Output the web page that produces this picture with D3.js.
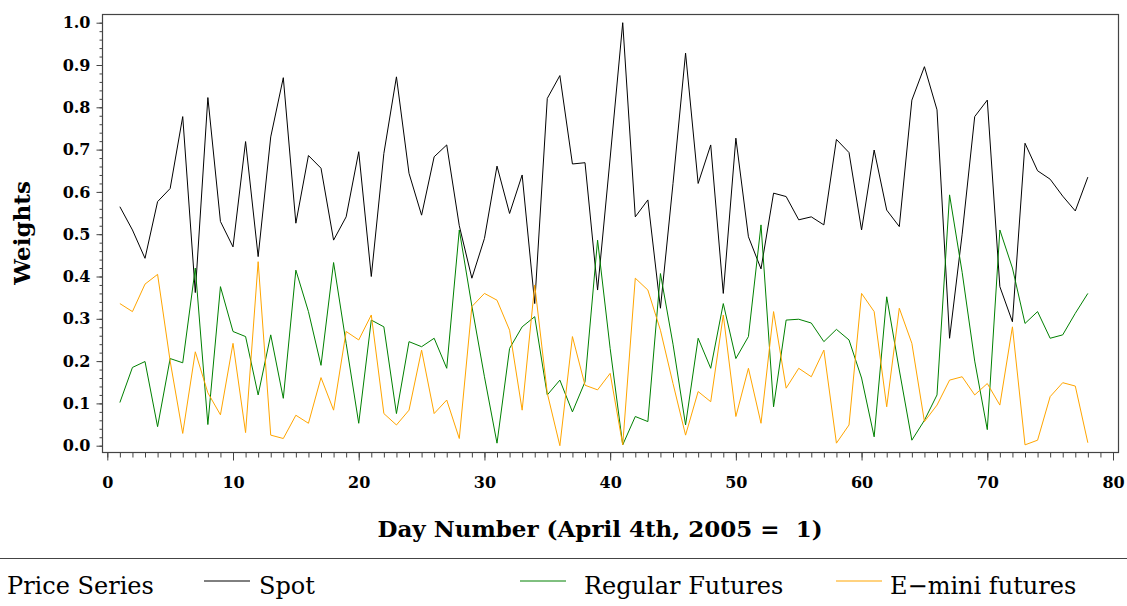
<!DOCTYPE html>
<html>
<head>
<meta charset="utf-8">
<script src="https://d3js.org/d3.v7.min.js"></script>
<style>
    body { margin: 0; background: #fff; }
    svg { display: block; }
</style>
</head>
<body>
<svg width="1127" height="606"></svg>
<script>
const days = d3.range(1, 79);

const spot = [0.565, 0.51, 0.443, 0.577, 0.608, 0.778, 0.362, 0.823, 0.53, 0.47,
              0.719, 0.447, 0.73, 0.87, 0.526, 0.686, 0.656, 0.486, 0.541, 0.695,
              0.40, 0.691, 0.872, 0.644, 0.545, 0.683, 0.711, 0.52, 0.396, 0.49,
              0.661, 0.549, 0.64, 0.336, 0.821, 0.875, 0.666, 0.669, 0.368, 0.68,
              1.0, 0.541, 0.581, 0.325, 0.62, 0.928, 0.62, 0.711, 0.36, 0.727,
              0.494, 0.418, 0.597, 0.589, 0.534, 0.541, 0.522, 0.724, 0.693, 0.51,
              0.699, 0.557, 0.518, 0.817, 0.896, 0.794, 0.254, 0.5, 0.778, 0.817,
              0.376, 0.293, 0.715, 0.65, 0.63, 0.59, 0.555, 0.635];

const regular = [0.102, 0.185, 0.199, 0.045, 0.206, 0.196, 0.42, 0.05, 0.376, 0.27,
                 0.258, 0.12, 0.262, 0.112, 0.415, 0.317, 0.19, 0.433, 0.242, 0.053,
                 0.297, 0.281, 0.076, 0.246, 0.234, 0.254, 0.183, 0.51, 0.33, 0.163,
                 0.006, 0.23, 0.281, 0.305, 0.12, 0.155, 0.08, 0.151, 0.486, 0.23,
                 0.002, 0.069, 0.057, 0.407, 0.24, 0.049, 0.254, 0.183, 0.336, 0.206,
                 0.258, 0.522, 0.092, 0.297, 0.299, 0.29, 0.246, 0.275, 0.25, 0.16,
                 0.021, 0.352, 0.179, 0.013, 0.06, 0.12, 0.593, 0.41, 0.2, 0.038,
                 0.51, 0.42, 0.289, 0.317, 0.254, 0.262, 0.313, 0.36];

const emini = [0.336, 0.317, 0.382, 0.405, 0.2, 0.029, 0.222, 0.125, 0.073, 0.242,
               0.031, 0.435, 0.025, 0.017, 0.072, 0.053, 0.161, 0.084, 0.27, 0.25,
               0.309, 0.076, 0.049, 0.084, 0.226, 0.076, 0.108, 0.017, 0.329, 0.36,
               0.344, 0.273, 0.084, 0.38, 0.124, 0.0, 0.258, 0.143, 0.132, 0.171,
               0.002, 0.396, 0.368, 0.273, 0.147, 0.025, 0.128, 0.104, 0.309, 0.069,
               0.183, 0.053, 0.317, 0.136, 0.183, 0.163, 0.226, 0.006, 0.049, 0.36,
               0.317, 0.092, 0.325, 0.242, 0.057, 0.096, 0.155, 0.163, 0.12, 0.147,
               0.096, 0.281, 0.002, 0.013, 0.116, 0.149, 0.141, 0.007];

const xMajor = [0, 10, 20, 30, 40, 50, 60, 70, 80];
const yMajor = [0, 0.1, 0.2, 0.3, 0.4, 0.5, 0.6, 0.7, 0.8, 0.9, 1.0];

const seriesNames = ["Spot", "Regular Futures", "E\u2212mini futures"];
const seriesColors = ["#000000", "#008000", "#ffa500"];

const FONT = "'DejaVu Serif', serif";

const svg = d3.select("svg");

// frame is a bit wider than the data range, like the SAS output
const frame = {left: 102.5, right: 1118.5, top: 14.5, bottom: 452.5};

const x = d3.scaleLinear().domain([0, 80]).range([107.3, 1113]);
const y = d3.scaleLinear().domain([0, 1]).range([445.7, 22.7]);

svg.append("rect")
    .attr("x", frame.left)
    .attr("y", frame.top)
    .attr("width", frame.right - frame.left)
    .attr("height", frame.bottom - frame.top)
    .attr("fill", "none")
    .attr("stroke", "#444")
    .attr("stroke-width", 1.2);

// x axis: minor ticks every day, major every 10
const xMinor = svg.append("g")
    .attr("transform", `translate(0,${frame.bottom})`)
    .call(d3.axisBottom(x).tickValues(d3.range(0, 81)).tickSize(5).tickFormat(""));
xMinor.select(".domain").remove();

const xAxis = svg.append("g")
    .attr("transform", `translate(0,${frame.bottom})`)
    .call(d3.axisBottom(x).tickValues(xMajor).tickSize(8).tickPadding(16).tickFormat(d3.format("d")));
xAxis.select(".domain").remove();

// y axis: minor ticks every 0.02
const yMinor = svg.append("g")
    .attr("transform", `translate(${frame.left},0)`)
    .call(d3.axisLeft(y).tickValues(d3.range(0, 51).map(i => i / 50)).tickSize(3).tickFormat(""));
yMinor.select(".domain").remove();

const yAxis = svg.append("g")
    .attr("transform", `translate(${frame.left},0)`)
    .call(d3.axisLeft(y).tickValues(yMajor).tickSize(6).tickPadding(6).tickFormat(d3.format(".1f")));
yAxis.select(".domain").remove();

svg.selectAll(".tick line").attr("stroke", "#444");
svg.selectAll(".tick text")
    .attr("font-family", FONT)
    .attr("font-weight", "bold")
    .attr("font-size", 16)
    .attr("fill", "#000");

svg.append("text")
    .text("Day Number (April 4th, 2005 =  1)")
    .attr("x", 600)
    .attr("y", 537)
    .attr("text-anchor", "middle")
    .attr("font-family", FONT)
    .attr("font-weight", "bold")
    .attr("font-size", 23)
    .attr("xml:space", "preserve")
    .style("white-space", "pre");

svg.append("text")
    .text("Weights")
    .attr("transform", "translate(30,233) rotate(-90)")
    .attr("text-anchor", "middle")
    .attr("font-family", FONT)
    .attr("font-weight", "bold")
    .attr("font-size", 23);

// lines
const line = d3.line()
    .x((d, i) => x(days[i]))
    .y(d => y(d));

[spot, regular, emini].forEach((s, k) => {
    svg.append("path")
        .datum(s)
        .attr("fill", "none")
        .attr("stroke", seriesColors[k])
        .attr("stroke-width", 1)
        .attr("d", line);
});

// legend
svg.append("line")
    .attr("x1", 0).attr("x2", 1127)
    .attr("y1", 558.5).attr("y2", 558.5)
    .attr("stroke", "#444")
    .attr("stroke-width", 1.2);

svg.append("text")
    .text("Price Series")
    .attr("x", 7)
    .attr("y", 594)
    .attr("font-family", FONT)
    .attr("font-size", 24);

const legendX = [[204, 259], [520, 584], [836, 890]];
seriesNames.forEach((name, k) => {
    svg.append("line")
        .attr("x1", legendX[k][0]).attr("x2", legendX[k][0] + 46)
        .attr("y1", 581).attr("y2", 581)
        .attr("stroke", seriesColors[k])
        .attr("stroke-width", 1);
    svg.append("text")
        .text(name)
        .attr("x", legendX[k][1])
        .attr("y", 594)
        .attr("font-family", FONT)
        .attr("font-size", 24);
});
</script>
</body>
</html>
